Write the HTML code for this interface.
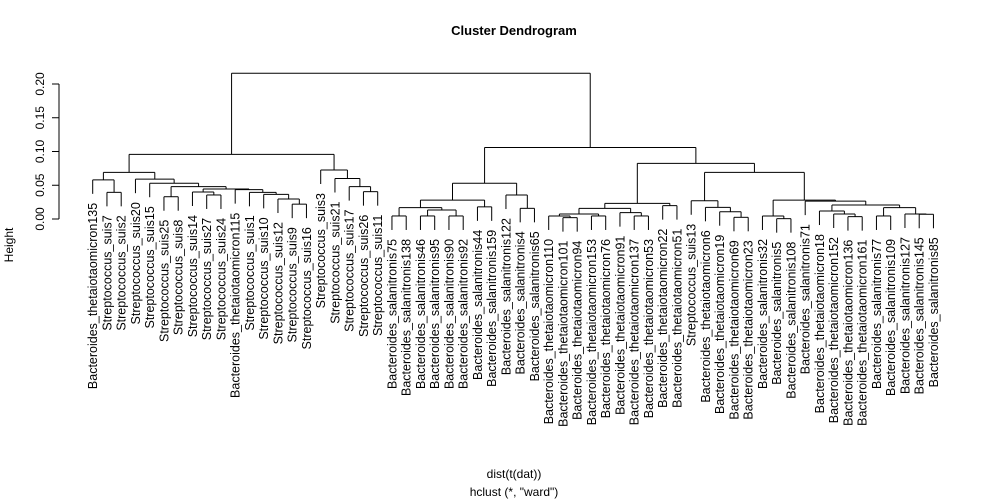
<!DOCTYPE html>
<html><head><meta charset="utf-8"><style>
html,body{margin:0;padding:0;background:#fff;}
svg{display:block;font-family:"Liberation Sans",Arial,sans-serif;}
</style></head><body>
<svg id="chart" width="1000" height="500" viewBox="0 0 1000 500">
<text x="514" y="35" text-anchor="middle" font-size="13" font-weight="bold">Cluster Dendrogram</text>
<text x="514" y="478" text-anchor="middle" font-size="12">dist(t(dat))</text>
<text x="514" y="496" text-anchor="middle" font-size="12">hclust (*, "ward")</text>
<text transform="translate(13,245) rotate(-90)" text-anchor="middle" font-size="12">Height</text>
<g id="axis"></g>
<g id="tree"></g>
<g id="labels"></g>
</svg>
<script>
const yTicks = [0, 0.05, 0.10, 0.15, 0.20];
const yTickLabels = ["0.00", "0.05", "0.10", "0.15", "0.20"];
const treeData = [0.216,
  [0.0958,
    [0.069,
      [0.058, "Bacteroides_thetaiotaomicron135", [0.0395, "Streptococcus_suis7", "Streptococcus_suis2"]],
      [0.059, "Streptococcus_suis20",
        [0.053, "Streptococcus_suis15",
          [0.048, [0.033, "Streptococcus_suis25", "Streptococcus_suis8"],
            [0.0445,
              [0.040, "Streptococcus_suis14", [0.0356, "Streptococcus_suis27", "Streptococcus_suis24"]],
              [0.0435, "Bacteroides_thetaiotaomicron115",
                [0.0395, "Streptococcus_suis1", [0.0365, "Streptococcus_suis10", [0.0296, "Streptococcus_suis12", [0.022, "Streptococcus_suis9", "Streptococcus_suis16"]]]]]]]]]],
    [0.0726, "Streptococcus_suis3", [0.060, "Streptococcus_suis21", [0.048, "Streptococcus_suis17", [0.0405, "Streptococcus_suis26", "Streptococcus_suis11"]]]]],
  [0.106,
    [0.053,
      [0.028,
        [0.0168, [0.0045, "Bacteroides_salanitronis75", "Bacteroides_salanitronis138"],
          [0.0133, [0.0045, "Bacteroides_salanitronis46", "Bacteroides_salanitronis95"], [0.0045, "Bacteroides_salanitronis90", "Bacteroides_salanitronis92"]]],
        [0.018, "Bacteroides_salanitronis44", "Bacteroides_salanitronis159"]],
      [0.0355, "Bacteroides_salanitronis122", [0.0158, "Bacteroides_salanitronis4", "Bacteroides_salanitronis65"]]],
    [0.0825,
      [0.0232,
        [0.0158,
          [0.0074, [0.0045, "Bacteroides_thetaiotaomicron110", [0.002, "Bacteroides_thetaiotaomicron101", "Bacteroides_thetaiotaomicron94"]],
            [0.0045, "Bacteroides_thetaiotaomicron153", "Bacteroides_thetaiotaomicron76"]],
          [0.0094, "Bacteroides_thetaiotaomicron91", [0.0045, "Bacteroides_thetaiotaomicron137", "Bacteroides_thetaiotaomicron53"]]],
        [0.0198, "Bacteroides_thetaiotaomicron22", "Bacteroides_thetaiotaomicron51"]],
      [0.069,
        [0.027, "Streptococcus_suis13", [0.0173, "Bacteroides_thetaiotaomicron6", [0.0108, "Bacteroides_thetaiotaomicron19", [0.0025, "Bacteroides_thetaiotaomicron69", "Bacteroides_thetaiotaomicron23"]]]],
        [0.028,
          [0.0045, "Bacteroides_salanitronis32", [0.0005, "Bacteroides_salanitronis5", "Bacteroides_salanitronis108"]],
          [0.0265, "Bacteroides_salanitronis71",
            [0.0207,
              [0.0118, "Bacteroides_thetaiotaomicron18", [0.0074, "Bacteroides_thetaiotaomicron152", [0.0035, "Bacteroides_thetaiotaomicron136", "Bacteroides_thetaiotaomicron161"]]],
              [0.0168, [0.0045, "Bacteroides_salanitronis77", "Bacteroides_salanitronis109"], [0.0074, "Bacteroides_salanitronis127", [0.007, "Bacteroides_salanitronis145", "Bacteroides_salanitronis85"]]]]]]]]]];

const NS = "http://www.w3.org/2000/svg";
const yScale = h => 219 - h * 675;
const leafX0 = 92.7, leafStep = 14.25;
const xScale = i => leafX0 + i * leafStep;
const hang = 14, gap = 9;
const axisG = document.getElementById('axis');
const treeG = document.getElementById('tree');
const labG = document.getElementById('labels');

function line(g, x1, y1, x2, y2, name) {
  const l = document.createElementNS(NS, 'line');
  l.setAttribute('x1', x1); l.setAttribute('y1', y1);
  l.setAttribute('x2', x2); l.setAttribute('y2', y2);
  l.setAttribute('stroke', '#000'); l.setAttribute('stroke-width', '1');
  
  
  g.appendChild(l);
}

line(axisG, 59, yScale(yTicks[yTicks.length - 1]), 59, yScale(yTicks[0]), 'y-axis-line');
yTicks.forEach((t, i) => {
  line(axisG, 52, yScale(t), 59, yScale(t), 'y-tick');
  const tx = document.createElementNS(NS, 'text');
  tx.setAttribute('transform', `translate(44,${yScale(t)}) rotate(-90)`);
  tx.setAttribute('text-anchor', 'middle');
  tx.setAttribute('font-size', '12');
  tx.textContent = yTickLabels[i];
  
  
  axisG.appendChild(tx);
});

let leafIdx = 0;
function draw(node, parentH) {
  if (typeof node === 'string') {
    const x = xScale(leafIdx++);
    const yTop = yScale(parentH);
    const yBot = yTop + hang;
    line(treeG, x, yTop, x, yBot, 'leaf-branch');
    const tx = document.createElementNS(NS, 'text');
    tx.setAttribute('transform', `translate(${x + 4.5},${yBot + gap}) rotate(-90)`);
    tx.setAttribute('text-anchor', 'end');
    tx.setAttribute('font-size', '12.5');
    tx.textContent = node;
    
    
    labG.appendChild(tx);
    return { x: x, y: yTop };
  }
  const h = node[0];
  const y = yScale(h);
  const a = draw(node[1], h);
  const b = draw(node[2], h);
  line(treeG, a.x, y, b.x, y, 'merge-bar');
  if (typeof node[1] !== 'string') line(treeG, a.x, a.y, a.x, y, 'branch');
  if (typeof node[2] !== 'string') line(treeG, b.x, b.y, b.x, y, 'branch');
  return { x: (a.x + b.x) / 2, y: y };
}
draw(treeData, treeData[0]);
</script>
</body></html>
